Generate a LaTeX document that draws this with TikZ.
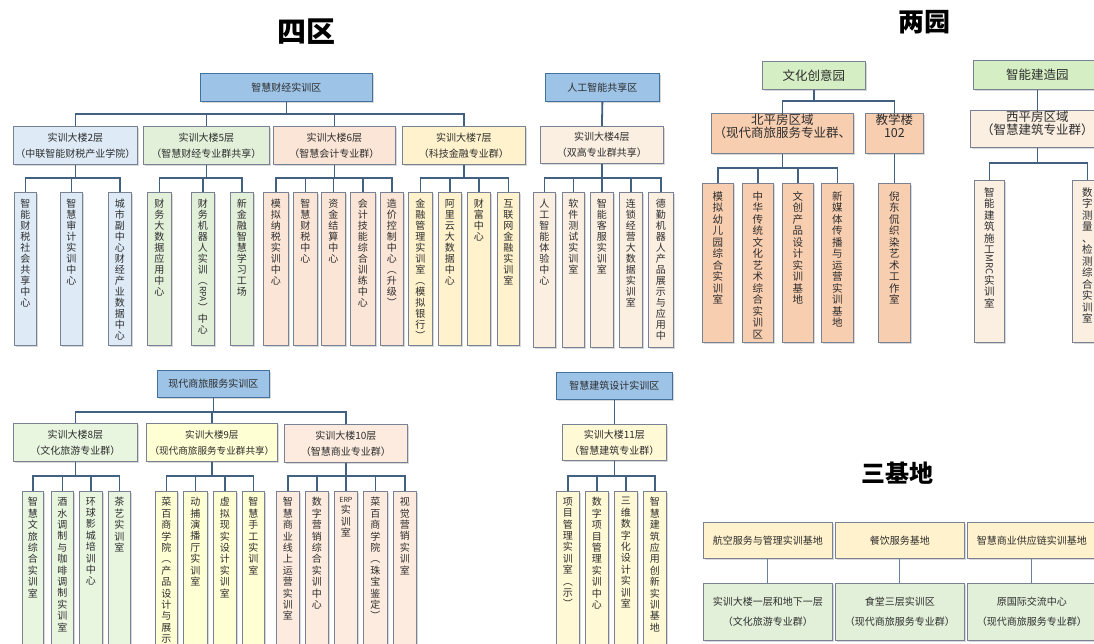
\documentclass[tikz,border=0pt]{standalone}
\usepackage{fontspec}
\setmainfont{Noto Sans CJK SC}
\usepackage{graphicx}
\usetikzlibrary{shadows}
\definecolor{blueT}{RGB}{157,195,230}
\definecolor{blueB}{RGB}{65,113,156}
\definecolor{cBlue}{RGB}{222,235,247}
\definecolor{cGreen}{RGB}{226,240,217}
\definecolor{cPink}{RGB}{251,229,214}
\definecolor{cYel}{RGB}{255,242,204}
\definecolor{cCream}{RGB}{251,239,226}
\definecolor{cGreenP}{RGB}{213,238,196}
\definecolor{cPeach}{RGB}{248,206,176}
\definecolor{cGreen2}{RGB}{232,246,224}
\definecolor{cYel2}{RGB}{255,255,212}
\definecolor{cPeach2}{RGB}{252,235,222}
\definecolor{cYel3}{RGB}{255,249,214}
\definecolor{linec}{RGB}{66,96,128}
\definecolor{boxb}{RGB}{120,130,148}
\definecolor{txt}{RGB}{45,45,45}
\makeatletter
\def\vt#1{\vt@a#1\relax}
\def\vt@a#1{\ifx#1\relax\else#1\par\expandafter\vt@a\fi}
\makeatother
\newcommand\rpa{\rotatebox[origin=c]{-90}{\fontsize{8.5}{8.5}\selectfont RPA}}
\newcommand\mrc{\rotatebox[origin=c]{-90}{\fontsize{9.5}{9.5}\selectfont MRC}}
\newcommand\erp{{\fontsize{7}{7}\selectfont ERP}}
\tikzset{
  box/.style={draw=boxb, line width=0.8pt, inner sep=0pt, anchor=north west, text=txt, align=center,
    drop shadow={shadow xshift=1.4pt, shadow yshift=-1.4pt, opacity=0.3}},
  topbox/.style={fill=blueT, draw=blueB, font=\fontsize{10}{12}\selectfont},
  subbox/.style={font=\fontsize{10}{16}\selectfont},
  parkbox/.style={fill=cGreenP, font=\fontsize{12.5}{14}\selectfont},
  basebox/.style={font=\fontsize{10}{20}\selectfont},
  leaf/.style={box, font=\fontsize{10}{11}\selectfont},
  leafB/.style={box, font=\fontsize{10}{11.4}\selectfont},
  leafC/.style={box, font=\fontsize{10.5}{11.5}\selectfont},
  conn/.style={draw=linec, line width=1.8pt},
  thinconn/.style={draw=linec!80, line width=1pt},
  titletext/.style={font=\bfseries, text=black, inner sep=0pt}
}
\newcommand\bx[7]{\node[box,#2,minimum width={#5-#3},minimum height={#6-#4}] (#1) at (#3,#4) {#7};}
\newcommand\lf[9]{\node[#2,#3] (#1) at (#4,#5) {\parbox[t][\dimexpr#7pt-#5pt\relax][t]{\dimexpr#6pt-#4pt\relax}{\centering\vspace*{#8pt}\vt{#9}}};}
\newcommand\bus[3]{\foreach \c in {#3}{\draw[conn] (#1.south) -- ++(0,#2) -| (\c.north);}}
\begin{document}
\begin{tikzpicture}[x=1pt,y=-1pt]
\useasboundingbox (0,0) rectangle (1094,644);
\fill[white] (0,0) rectangle (1094,644);
\clip (0,0) rectangle (1094,644);

% titles
\node[titletext,font=\fontsize{29}{29}\selectfont\bfseries] (T1) at (306,32) {四区};
\node[titletext,font=\fontsize{26}{26}\selectfont\bfseries] (T2) at (924,22) {两园};
\node[titletext,font=\fontsize{24}{24}\selectfont\bfseries] (T3) at (897,473) {三基地};

% ===== 智慧财经实训区 =====
\bx{A}{topbox}{200}{73}{372}{101}{智慧财经实训区}
\bx{A2}{subbox,fill=cBlue}{13}{126}{137}{164}{实训大楼2层\\（中联智能财税产业学院）}
\bx{A5}{subbox,fill=cGreen}{143}{126}{269}{164}{实训大楼5层\\（智慧财经专业群共享）}
\bx{A6}{subbox,fill=cPink}{273}{126}{395}{164}{实训大楼6层\\（智慧会计专业群）}
\bx{A7}{subbox,fill=cYel}{402}{126}{525}{164}{实训大楼7层\\（科技金融专业群）}

\lf{a21}{leaf}{fill=cBlue}{14}{192}{36}{345}{7}{智能财税社会共享中心}
\lf{a22}{leaf}{fill=cBlue}{60}{192}{82}{345}{7}{智慧审计实训中心}
\lf{a23}{leaf}{fill=cBlue}{108}{192}{131}{345}{7}{城市副中心财经产业数据中心}
\lf{a51}{leaf}{fill=cGreen}{147}{192}{171}{345}{7}{财务大数据应用中心}
\lf{a52}{leaf}{fill=cGreen}{191}{192}{214}{345}{7}{财务机器人实训︵\rpa︶中心}
\lf{a53}{leaf}{fill=cGreen}{230}{192}{253}{345}{7}{新金融智慧学习工场}
\lf{a61}{leaf}{fill=cPink}{263}{192}{288}{345}{7}{模拟纳税实训中心}
\lf{a62}{leaf}{fill=cPink}{293}{192}{317}{345}{7}{智慧财税中心}
\lf{a63}{leaf}{fill=cPink}{321}{192}{345}{345}{7}{资金结算中心}
\lf{a64}{leaf}{fill=cPink}{350}{192}{375}{345}{7}{会计技能综合训练中心}
\lf{a65}{leaf}{fill=cPink}{380}{192}{403}{345}{7}{造价控制中心︵升级︶}
\lf{a71}{leaf}{fill=cYel}{408}{192}{432}{345}{7}{金融管理实训室︵模拟银行︶}
\lf{a72}{leaf}{fill=cYel}{438}{192}{461}{345}{7}{阿里云大数据中心}
\lf{a73}{leaf}{fill=cYel}{467}{192}{490}{345}{7}{财富中心}
\lf{a74}{leaf}{fill=cYel}{497}{192}{519}{345}{7}{互联网金融实训室}

\bus{A}{12}{A2,A5,A6,A7}
\bus{A2}{13}{a21,a22,a23}
\bus{A5}{13}{a51,a52,a53}
\bus{A6}{13}{a61,a62,a63,a64,a65}
\bus{A7}{13}{a71,a72,a73,a74}

% ===== 人工智能共享区 =====
\bx{B}{topbox}{545}{73}{659}{101}{人工智能共享区}
\bx{B4}{subbox,fill=cCream}{540}{126}{663}{163}{实训大楼4层\\（双高专业群共享）}
\lf{b1}{leaf}{fill=cCream}{533}{192}{555}{347}{7}{人工智能体验中心}
\lf{b2}{leaf}{fill=cCream}{562}{192}{584}{347}{7}{软件测试实训室}
\lf{b3}{leaf}{fill=cCream}{590}{192}{613}{347}{7}{智能客服实训室}
\lf{b4}{leaf}{fill=cCream}{619}{192}{642}{347}{7}{连锁经营大数据实训室}
\lf{b5}{leaf}{fill=cCream}{648}{192}{673}{347}{7}{德勤机器人产品展示与应用中}
\draw[conn] (B.south) -- (B4.north);
\bus{B4}{14}{b1,b2,b3,b4,b5}

% ===== 文化创意园 =====
\bx{C}{parkbox}{762}{61}{865}{89}{文化创意园}
\node[box,fill=cPeach,font=\fontsize{12.5}{13}\selectfont] (C1) at (711,113) {\parbox[t][40pt][t]{142pt}{\centering\vspace*{0.5pt}北平房区域\\（现代商旅服务专业群、}};
\node[box,fill=cPeach,font=\fontsize{12.5}{13}\selectfont] (C2) at (865,113) {\parbox[t][40pt][t]{58pt}{\centering\vspace*{0.5pt}教学楼\\102}};
\lf{c1}{leafC}{fill=cPeach}{702}{183}{733}{342}{8}{模拟幼儿园综合实训室}
\lf{c2}{leafC}{fill=cPeach}{742}{183}{773}{342}{8}{中华传统文化艺术综合实训区}
\lf{c3}{leafC}{fill=cPeach}{782}{183}{813}{342}{8}{文创产品设计实训基地}
\lf{c4}{leafC}{fill=cPeach}{821}{183}{853}{342}{8}{新媒体传播与运营实训基地}
\lf{c5}{leafC}{fill=cPeach}{878}{183}{910}{342}{8}{倪东侃织染艺术工作室}
\bus{C}{11}{C1,C2}
\bus{C1}{14}{c1,c2,c3,c4}
\draw[conn] (C2.south) -- (c5.north);

% ===== 智能建造园 =====
\bx{D}{parkbox}{973}{60}{1101}{89}{智能建造园}
\node[box,fill=cCream,font=\fontsize{12.5}{13}\selectfont] (D1) at (970,110) {\parbox[t][37pt][t]{134pt}{\centering\vspace*{1pt}西平房区域\\（智慧建筑专业群）}};
\lf{d1}{leafC}{fill=cCream}{974}{180}{1004}{342}{7}{智能建筑施工\mrc 实训室}
\lf{d2}{leafC}{fill=cCream}{1072}{180}{1102}{342}{7}{数字测量、检测综合实训室}
\draw[conn] (D.south) -- (D1.north);
\bus{D1}{15}{d1,d2}

% ===== 现代商旅服务实训区 =====
\bx{E}{topbox}{157}{370}{269}{397}{现代商旅服务实训区}
\bx{E8}{subbox,fill=cGreen2}{13}{423}{137}{461}{实训大楼8层\\（文化旅游专业群）}
\bx{E9}{subbox,fill=cYel2,font=\fontsize{9.6}{16}\selectfont}{146}{423}{277}{461}{实训大楼9层\\（现代商旅服务专业群共享）}
\bx{E10}{subbox,fill=cPeach2}{284}{424}{407}{462}{实训大楼10层\\（智慧商业专业群）}
\lf{e81}{leafB}{fill=cGreen2}{22}{491}{43}{662}{6}{智慧文旅综合实训室}
\lf{e82}{leafB}{fill=cGreen2}{51}{491}{73}{662}{6}{酒水调制与咖啡调制实训室}
\lf{e83}{leafB}{fill=cGreen2}{79}{491}{102}{662}{6}{环球影城培训中心}
\lf{e84}{leafB}{fill=cGreen2}{108}{491}{130}{662}{6}{茶艺实训室}
\lf{e91}{leafB}{fill=cYel2}{155}{491}{177}{662}{6}{菜百商学院︵产品设计与展示︶}
\lf{e92}{leafB}{fill=cYel2}{183}{491}{207}{662}{6}{动捕演播厅实训室}
\lf{e93}{leafB}{fill=cYel2}{213}{491}{236}{662}{6}{虚拟现实设计实训室}
\lf{e94}{leafB}{fill=cYel2}{242}{491}{264}{662}{6}{智慧手工实训室}
\lf{e101}{leafB}{fill=cPeach2}{276}{491}{299}{662}{6}{智慧商业线上运营实训室}
\lf{e102}{leafB}{fill=cPeach2}{305}{491}{328}{662}{6}{数字营销综合实训中心}
\lf{e103}{leafB}{fill=cPeach2}{334}{491}{357}{662}{6}{\erp 实训室}
\lf{e104}{leafB}{fill=cPeach2}{363}{491}{387}{662}{6}{菜百商学院︵珠宝鉴定︶}
\lf{e105}{leafB}{fill=cPeach2}{393}{491}{416}{662}{6}{视觉营销实训室}
\bus{E}{14}{E8,E9,E10}
\bus{E8}{14}{e81,e82,e83,e84}
\bus{E9}{14}{e91,e92,e93,e94}
\bus{E10}{13}{e101,e102,e103,e104,e105}

% ===== 智慧建筑设计实训区 =====
\bx{F}{topbox}{556}{372}{672}{399}{智慧建筑设计实训区}
\bx{F11}{subbox,fill=cYel3}{562}{424}{666}{460}{实训大楼11层\\（智慧建筑专业群）}
\lf{f1}{leafB}{fill=cYel3}{556}{491}{579}{662}{6}{项目管理实训室︵示︶}
\lf{f2}{leafB}{fill=cYel3}{585}{491}{608}{662}{6}{数字项目管理实训中心}
\lf{f3}{leafB}{fill=cYel3}{614}{491}{637}{662}{6}{三维数字化设计实训室}
\lf{f4}{leafB}{fill=cYel3}{643}{491}{666}{662}{6}{智慧建筑应用创新实训基地}
\draw[conn] (F.south) -- (F11.north);
\bus{F11}{15}{f1,f2,f3,f4}

% ===== 三基地 =====
\bx{G1}{basebox,fill=cYel}{703}{522}{832}{558}{航空服务与管理实训基地}
\bx{G2}{basebox,fill=cYel}{835}{522}{964}{558}{餐饮服务基地}
\bx{G3}{basebox,fill=cYel}{967}{522}{1096}{558}{智慧商业供应链实训基地}
\bx{H1}{basebox,fill=cGreen}{703}{583}{832}{640}{实训大楼一层和地下一层\\（文化旅游专业群）}
\bx{H2}{basebox,fill=cGreen}{835}{583}{964}{640}{食堂三层实训区\\（现代商旅服务专业群）}
\bx{H3}{basebox,fill=cGreen}{967}{583}{1096}{640}{原国际交流中心\\（现代商旅服务专业群）}
\draw[thinconn] (G1.south) -- (H1.north);
\draw[thinconn] (G2.south) -- (H2.north);
\draw[thinconn] (G3.south) -- (H3.north);
\end{tikzpicture}
\end{document}
